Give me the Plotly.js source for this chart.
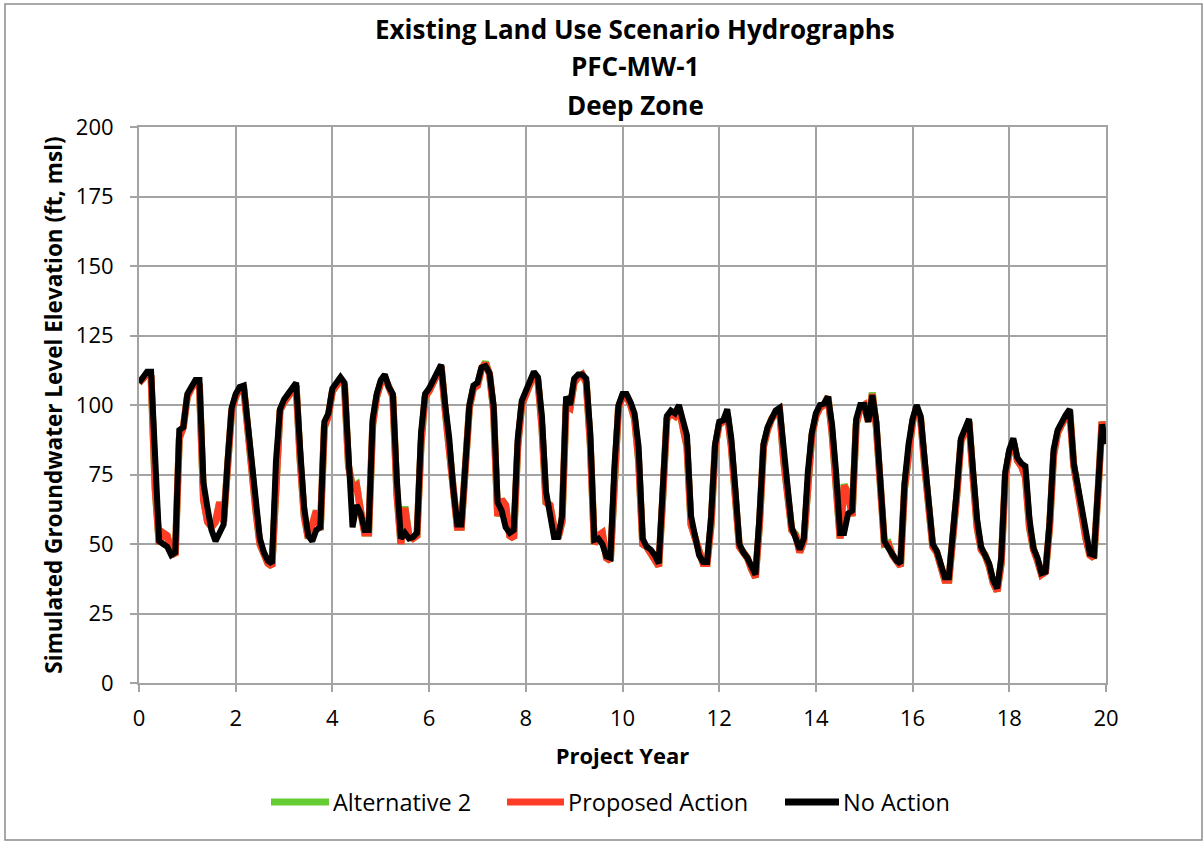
<!DOCTYPE html>
<html><head><meta charset="utf-8">
<script src="https://cdn.plot.ly/plotly-3.0.1.min.js"></script>
<style>html,body{margin:0;padding:0;background:#fff;} #chart{width:1203px;height:841px;}</style>
</head><body><div id="chart"></div>
<script>
// Monthly simulated groundwater level elevation (ft, msl), project months 0..240
const noAction = [
  108,110,112,112,78,51,50,49,46,47,91,92,
  104,107,109,109,72,63,55,51,54,57,80,99,
  104,106.5,107,93,84,67,52,47,44,43,80,98.5,
  102,104,106,108,84,63,53,51,55,56,94,97,
  106,108,110,108,83,56,64,61,55,55,95,104,
  109,111,106.5,104,73,52,54,52,52.5,54,90,104,
  106,109,111.5,114.5,100,88,70,57,57,77,100,107,
  108,113.5,114,111.5,100,65,62,56,54,55,88,101.5,
  105,109,112,110,96,69,62,52.5,52.5,60,103,100,
  109.5,111,111,109.5,90,51.5,52,50,45.5,45,78,100,
  104,104,101,97,85,52,49,48,46,43,70,96,
  98,97,100,95,89,60,53,46,43.5,43.5,60,86,
  94,94.5,98.5,88,70,50,47,45,42,39,60,86,
  92,95.5,98,99,84,70,56,52,48,52,76,90,
  97,100,100.5,103,93,76,54,54,61,62,95,100,
  100,94,103.5,94,75,51,48.5,46,44,43,72,86,
  95,100,96,80.5,66,50,47.5,43,38,38,52,70,
  88,91,95,76.5,59,49,46,43,37,34,45,76,
  84,88,81,79,78,59,48.5,45,39.5,40,58,84,
  91,94,96.5,98.5,79,71,62,53,46.5,46,70,93,
  86
];
const proposedAction = [
  108,110,111,110,70,50,54,53,47,46,88,92,
  103,106,108,107,66,58,56,58,65,58,76,98,
  103,106,106,90,80,62,50,46,43,42,76,98,
  101,103,105,107,80,60,52,58,62,55,92,96,
  105,107,109,107,78,70,71,62,54,54,93,103,
  108,110,106,103,68,50,63,53,52,53,86,103,
  105,108,111,114,98,84,66,56,56,74,99,106,
  107,113,115,111,98,60,66,64,53,52,85,100,
  104,108,111,109,92,65,64,56,52,58,100,99,
  108,110,111,108,86,50,53,54,45,44,75,99,
  103,103,100,95,80,50,49,47,45,42,67,95,
  97,96,99,93,85,57,52,47,43,43,57,85,
  93,94,97,85,66,49,47,45,41,38,57,85,
  91,95,97,98,80,66,55,53,47,51,73,89,
  96,99,100,103,90,70,52,71,68,60,93,99,
  100,94,104,92,70,50,50,46,44,42,70,85,
  94,99,95,78,62,49,47,42,37,37,50,68,
  87,90,94,74,56,48,46,42,36,33,43,74,
  83,87,80,78,74,56,48,44,39,40,56,82,
  90,93,96,98,78,68,60,52,46,45,68,94,
  87
];
const alternative2 = [
  108,110,111,110,70,50,54,53,47,46,88,92,
  103,106,108,107,66,58,56,58,65,58,76,98,
  103,106,106,90,80,62,50,46,43,42,76,98,
  101,103,105,107,80,60,52,58,62,55,92,96,
  105,107,109,107,78,70.5,71.5,62,54,54,93,103,
  108,110,106,103,68,50,63.5,53,52,53,86,103,
  105,108,111,114,98,84,66,56,56,74,99,106,
  107,113,115.5,111,98,60,66,64,53,52,85,100,
  104,108,111,109,92,65,64,56,52,58,100,99,
  108,110,111,108,86,50,53,54,45,44,75,99,
  103,103,100,95,80,50,49,47,45,42,67,95,
  97,96,99,93,85,57,52,47,43,43,57,85,
  93,94,97,85,66,49,47,45,41,38,57,85,
  91,95,97,98,80,66,55,53.5,47,51,73,89,
  96,99,100,103,90,70,52,71.5,68,60,93,99,
  100,94,104.5,92,70,50,50.5,46,44,42,70,85,
  94,99,95,78,62,49,47,42,37,37,50,68,
  87,90,94,74,56,48,46,42,36,33,43,74,
  83,87,80,78,74,56,48,44,39,40,56,82,
  90,93,96,98,78,68,60,52,46,45,68,94,
  87
];
const monthsPerYear = 12;
const projectYear = noAction.map((_, i) => i / monthsPerYear);
const xTicks = [0,2,4,6,8,10,12,14,16,18,20];
const yTicks = [0,25,50,75,100,125,150,175,200];
const titleLines = ["Existing Land Use Scenario Hydrographs", "PFC-MW-1", "Deep Zone"];
const seriesNames = ["Alternative 2", "Proposed Action", "No Action"];
const seriesColors = ['#66cc33', '#ff3d26', '#000000'];

// layout geometry (pixels of the 1203x841 page)
const L = 139, R = 1106, T = 127, B = 683;
const px = p => (p - L) / (R - L);
const py = p => (B - p) / (B - T);
const FONT = '"Open Sans", Lato, sans-serif';
const grid = '#a3a3a3';

const traces = [
  {x: projectYear, y: alternative2, name: seriesNames[0], mode: 'lines', line: {color: seriesColors[0], width: 7}},
  {x: projectYear, y: proposedAction, name: seriesNames[1], mode: 'lines', line: {color: seriesColors[1], width: 7}},
  {x: projectYear, y: noAction, name: seriesNames[2], mode: 'lines', line: {color: seriesColors[2], width: 6}}
];

const titleY = [29, 66, 105];
const annotations = titleLines.map((t, i) => ({
  text: '<b>' + t + '</b>', xref: 'paper', yref: 'paper', x: px(635), y: py(titleY[i]),
  xanchor: 'center', yanchor: 'middle', showarrow: false,
  font: {family: FONT, size: 26, color: '#000'}
}));

// hand-placed legend (long line keys, as in the reference)
const legendY = py(802);
const legendKeys = [[271, 329], [507, 564], [785, 839]];
const shapes = [{type: 'rect', xref: 'paper', yref: 'paper', x0: px(5), x1: px(1202), y0: py(840), y1: py(4),
            line: {color: '#8c8c8c', width: 1.5}, fillcolor: 'rgba(0,0,0,0)', layer: 'below'}];
legendKeys.forEach((k, i) => {
  shapes.push({type: 'line', xref: 'paper', yref: 'paper', x0: px(k[0]), x1: px(k[1]), y0: legendY, y1: legendY,
               line: {color: seriesColors[i], width: 7}});
  annotations.push({text: seriesNames[i], xref: 'paper', yref: 'paper', x: px(k[1] + 2), y: legendY,
                    xanchor: 'left', yanchor: 'middle', showarrow: false,
                    font: {family: FONT, size: 23.5, color: '#000'}});
});

const layout = {
  width: 1203, height: 841,
  margin: {l: L, r: 1203 - R, t: T, b: 841 - B},
  paper_bgcolor: '#fff', plot_bgcolor: '#fff',
  font: {family: FONT, color: '#000'},
  showlegend: false,
  xaxis: {
    range: [0, 20], tickvals: xTicks, ticktext: xTicks.map(String),
    showgrid: true, gridcolor: grid, gridwidth: 2,
    showline: true, linecolor: grid, linewidth: 2, mirror: true,
    ticks: 'outside', ticklen: 7, tickcolor: grid, tickwidth: 2, ticklabelstandoff: 8,
    zeroline: false, tickfont: {family: FONT, size: 22, color: '#000'},
    title: {text: '<b>Project Year</b>', font: {family: FONT, size: 22, color: '#000'}, standoff: 17}
  },
  yaxis: {
    range: [0, 200], tickvals: yTicks, ticktext: yTicks.map(String),
    showgrid: true, gridcolor: grid, gridwidth: 2,
    showline: true, linecolor: grid, linewidth: 2, mirror: true,
    ticks: 'outside', ticklen: 7, tickcolor: grid, tickwidth: 2, ticklabelstandoff: 12,
    zeroline: false, tickfont: {family: FONT, size: 22, color: '#000'},
    title: {text: '<b>Simulated Groundwater Level Elevation (ft, msl)</b>', font: {family: FONT, size: 22.5, color: '#000'}, standoff: 7}
  },
  annotations: annotations,
  shapes: shapes
};

Plotly.newPlot('chart', traces, layout, {staticPlot: true, displayModeBar: false});
</script></body></html>
